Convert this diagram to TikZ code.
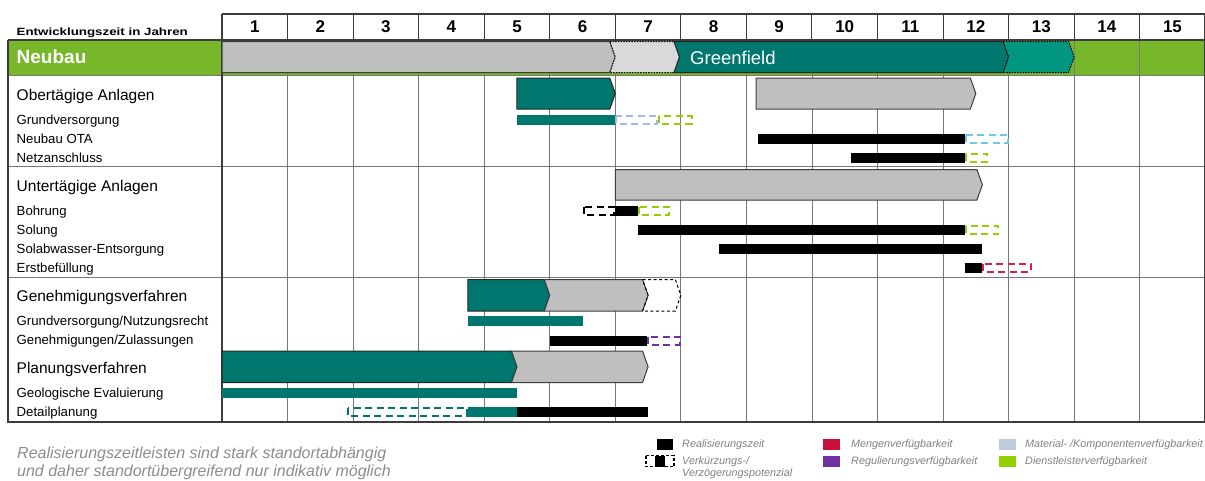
\documentclass[tikz,border=0pt]{standalone}
\usepackage{fontspec}
\setmainfont{Liberation Sans}
\definecolor{tealA}{RGB}{0,119,110}
\definecolor{tealB}{RGB}{0,150,128}
\definecolor{bandgreen}{RGB}{119,183,41}
\definecolor{cgray}{RGB}{191,191,191}
\definecolor{lgray}{RGB}{217,217,219}
\definecolor{matblue}{RGB}{165,185,215}
\definecolor{cyanb}{RGB}{110,200,225}
\definecolor{lime}{RGB}{146,208,0}
\definecolor{crim}{RGB}{215,30,80}
\definecolor{legred}{RGB}{200,16,60}
\definecolor{purp}{RGB}{112,48,160}
\definecolor{legblue}{RGB}{190,203,222}
\definecolor{gridc}{RGB}{120,120,120}
\definecolor{darkc}{RGB}{60,60,60}
\definecolor{legtxt}{RGB}{128,128,128}
\definecolor{notetxt}{RGB}{140,140,140}
\newcommand\chevbar[5][]{\path[#1] ({X(#2)},#4) -- ({X(#3)-5.5},#4) -- ({X(#3)},{(#4+#5)/2}) -- ({X(#3)-5.5},#5) -- ({X(#2)},#5) -- cycle;}
\newcommand\chevnotch[5][]{\path[#1] ({X(#2)-5.5},#4) -- ({X(#3)-5.5},#4) -- ({X(#3)},{(#4+#5)/2}) -- ({X(#3)-5.5},#5) -- ({X(#2)-5.5},#5) -- ({X(#2)},{(#4+#5)/2}) -- cycle;}
\newcommand\mkbar[5][]{\path[#1] ({X(#2)},#4) rectangle ({X(#3)},#5);}
\newcommand\mkdash[5][]{\path[dashbar,#1] ({X(#2)+1},{#4+1}) rectangle ({X(#3)-1},{#5-1});}
\begin{document}
\begin{tikzpicture}[x=1pt,y=-1pt,
  declare function={X(\t)=222+65.55*\t;},
  sec/.style={anchor=base west,inner sep=0pt,font=\fontsize{15.5}{18}\selectfont},
  lab/.style={anchor=base west,inner sep=0pt,font=\fontsize{13.2}{15}\selectfont},
  yr/.style={inner sep=0pt,font=\bfseries\fontsize{17}{20}\selectfont},
  leg/.style={anchor=base west,inner sep=0pt,text=legtxt,font=\itshape\fontsize{10.8}{13}\selectfont},
  note/.style={anchor=base west,inner sep=0pt,text=notetxt,font=\itshape\fontsize{16}{19}\selectfont},
  cgraystyle/.style={fill=cgray,draw=darkc,line width=1pt,line join=miter},
  ctealstyle/.style={fill=tealA,draw=black!85,line width=1pt},
  dashbar/.style={draw,dash pattern=on 7pt off 4.5pt,line width=2pt,fill=none}]
\useasboundingbox (0,0) rectangle (1205,480);
% green band
\fill[bandgreen] (8,40) rectangle (1204.5,75);
% body grid
\foreach \k in {1,...,14} \draw[gridc,line width=0.9pt] ({X(\k)},40) -- ({X(\k)},422);
\draw[gridc,line width=0.9pt] (8,75) -- (1204.5,75);
\draw[gridc,line width=1pt] (8,166) -- (1204.5,166);
\draw[gridc,line width=1pt] (8,277) -- (1204.5,277);
\draw[darkc,line width=1.2pt] (8,40) -- (8,422) -- (1204.5,422) -- (1204.5,14);
% header
\draw[darkc,line width=1.3pt] (222,14) -- (1204.5,14);
\draw[darkc,line width=1.2pt] (8,40) -- (1204.5,40);
\foreach \k in {1,...,14} \draw[darkc,line width=1pt] ({X(\k)},14) -- ({X(\k)},40);
\draw[darkc,line width=1.8pt] (222,14) -- (222,422);
\foreach \k in {1,...,15} \node[yr] (y\k) at ({X(\k-0.5)},27) {\k};
\node[anchor=base west,inner sep=0pt,font=\bfseries\fontsize{10.5}{13}\selectfont] (hdr) at (16.5,35) {\scalebox{1.27}[1]{Entwicklungszeit in Jahren}};
% Neubau band
\node[anchor=base west,inner sep=0pt,text=white,font=\bfseries\fontsize{19}{22}\selectfont] (neubau) at (16.5,63.5) {Neubau};
\chevbar[cgraystyle]{0}{6.0}{41.5}{72.5}
\chevnotch[fill=lgray,draw=black,line width=1pt,dash pattern=on 1.5pt off 1.2pt]{6.0}{6.98}{41.5}{72.5}
\chevnotch[ctealstyle]{6.98}{12.0}{41.5}{72.5}
\chevnotch[fill=tealB,draw=black,line width=1pt,dash pattern=on 1.5pt off 1.2pt]{12.0}{13.0}{41.5}{72.5}
\node[anchor=base west,inner sep=0pt,text=white,font=\fontsize{18.5}{21}\selectfont] (greenfield) at (690,64) {Greenfield};
% Obertaegige Anlagen
\node[sec] (ota) at (16.5,100.5) {Obertägige Anlagen};
\node[lab] (grv) at (16.5,124.8) {Grundversorgung};
\node[lab] (nota) at (16.5,143.8) {Neubau OTA};
\node[lab] (netz) at (16.5,162.8) {Netzanschluss};
\chevbar[ctealstyle]{4.5}{6.0}{78}{109}
\chevbar[cgraystyle]{8.15}{11.5}{78}{109}
\mkbar[fill=tealA]{4.5}{6.0}{115}{125}
\mkdash[draw=matblue]{6.0}{6.65}{115}{125}
\mkdash[draw=lime]{6.65}{7.18}{115}{125}
\mkbar[fill=black]{8.17}{11.34}{134}{144}
\mkdash[draw=cyanb]{11.34}{12.0}{134}{144}
\mkbar[fill=black]{9.6}{11.34}{153}{163}
\mkdash[draw=lime]{11.34}{11.69}{153}{163}
% Untertaegige Anlagen
\node[sec] (uta) at (16.5,191.5) {Untertägige Anlagen};
\node[lab] (bohr) at (16.5,215.8) {Bohrung};
\node[lab] (sol) at (16.5,234.8) {Solung};
\node[lab] (solab) at (16.5,253.8) {Solabwasser-Entsorgung};
\node[lab] (erst) at (16.5,272.8) {Erstbefüllung};
\chevbar[cgraystyle]{6.0}{11.6}{169.5}{200}
\mkdash[draw=black]{5.5}{6.0}{206}{216}
\mkbar[fill=black]{6.0}{6.34}{206}{216}
\mkdash[draw=lime]{6.34}{6.84}{206}{216}
\mkbar[fill=black]{6.34}{11.34}{225}{235}
\mkdash[draw=lime]{11.34}{11.86}{225}{235}
\mkbar[fill=black]{7.58}{11.6}{244}{254}
\mkbar[fill=black]{11.34}{11.6}{263}{273}
\mkdash[draw=crim]{11.6}{12.36}{263}{273}
% Genehmigungsverfahren
\node[sec] (gen) at (16.5,301.5) {Genehmigungsverfahren};
\node[lab] (grvn) at (16.5,325.8) {Grundversorgung/Nutzungsrecht};
\node[lab] (genz) at (16.5,344.8) {Genehmigungen/Zulassungen};
\chevbar[ctealstyle]{3.75}{5.0}{279.5}{311}
\chevnotch[cgraystyle]{5.0}{6.5}{279.5}{311}
\chevnotch[draw=black,line width=1pt,dash pattern=on 3pt off 2.5pt]{6.5}{7.0}{279.5}{311}
\mkbar[fill=tealA]{3.75}{5.5}{316}{326}
\mkbar[fill=black]{5.0}{6.49}{335.5}{345.5}
\mkdash[draw=purp]{6.49}{7.0}{335.5}{345.5}
% Planungsverfahren
\node[sec] (plan) at (16.5,373.5) {Planungsverfahren};
\node[lab] (geo) at (16.5,397.8) {Geologische Evaluierung};
\node[lab] (detail) at (16.5,416.8) {Detailplanung};
\chevbar[ctealstyle]{0}{4.5}{351}{382.5}
\chevnotch[cgraystyle]{4.5}{6.5}{351}{382.5}
\mkbar[fill=tealA]{0}{4.5}{387.5}{397.5}
\mkdash[draw=tealA]{1.9}{3.75}{406.5}{416.5}
\mkbar[fill=tealA]{3.75}{4.5}{406.5}{416.5}
\mkbar[fill=black]{4.5}{6.5}{406.5}{416.5}
% note
\node[note] (note1) at (17,458.5) {Realisierungszeitleisten sind stark standortabhängig};
\node[note] (note2) at (17,476) {und daher standortübergreifend nur indikativ möglich};
% legend
\fill[black] (657,438.5) rectangle (673,449.5);
\node[leg] (l1) at (682,447.7) {Realisierungszeit};
\draw[black,line width=1.3pt,dash pattern=on 3pt off 2pt] (646,455.5) rectangle (674,466.5);
\fill[black] (655,455.5) rectangle (665,466.5);
\node[leg] (l2) at (682,464) {Verkürzungs-/};
\node[leg] (l2b) at (682,476.7) {Verzögerungspotenzial};
\fill[legred] (823,438.5) rectangle (840,449.5);
\node[leg] (l3) at (851,447.7) {Mengenverfügbarkeit};
\fill[purp] (823,455.5) rectangle (840,466.5);
\node[leg] (l4) at (851,464) {Regulierungsverfügbarkeit};
\fill[legblue] (999,438.5) rectangle (1016,449.5);
\node[leg] (l5) at (1025,447.7) {Material- /Komponentenverfügbarkeit};
\fill[lime] (999,455.5) rectangle (1016,466.5);
\node[leg] (l6) at (1025,464) {Dienstleisterverfügbarkeit};
\end{tikzpicture}
\end{document}
